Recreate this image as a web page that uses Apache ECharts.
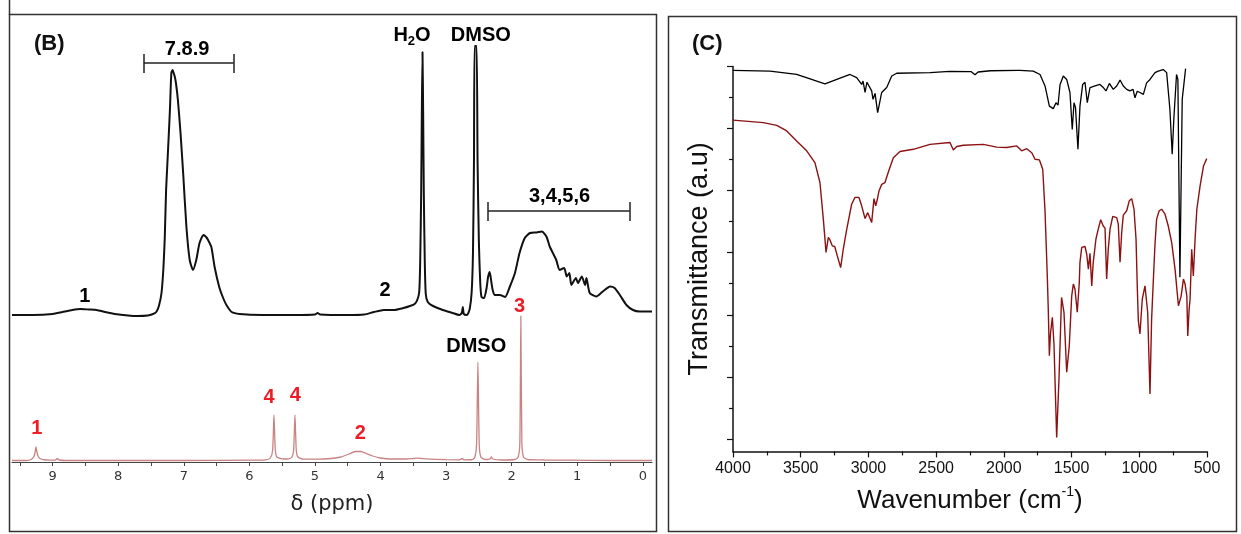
<!DOCTYPE html>
<html><head><meta charset="utf-8">
<script src="https://cdn.jsdelivr.net/npm/echarts@6/dist/echarts.min.js"></script>
<style>html,body{margin:0;padding:0;background:#fff}#c{width:1241px;height:534px}</style>
</head><body><div id="c"></div>
<script>
// ---------- Panel B : 1H NMR (ppm, intensity a.u.) ----------
const nmrBlack = [[9.62,147],[9.3,147],[9.0,148],[8.85,150],[8.7,152],[8.58,153],[8.45,152.5],[8.33,152],[8.2,150],[8.05,148],[7.85,146.5],[7.7,146],[7.55,146.5],[7.47,148],[7.42,150],[7.38,156],[7.34,169],[7.31,195],[7.29,225],[7.27,272],[7.25,299],[7.22,340],[7.21,355],[7.19,389],[7.17,392],[7.16,390],[7.14,386],[7.12,379],[7.09,362],[7.05,329],[7.01,289],[6.96,235],[6.91,202],[6.86,192],[6.81,202],[6.76,219],[6.70,227],[6.66,225],[6.63,222],[6.58,215],[6.53,195],[6.46,175],[6.40,164],[6.35,157],[6.27,150],[6.15,148],[5.8,147],[5.3,147],[5.0,147.5],[4.96,149],[4.92,147.5],[4.5,147],[4.25,147.5],[4.1,150],[3.95,152],[3.8,152],[3.65,154],[3.55,156],[3.48,158],[3.44,162],[3.41,170],[3.395,200],[3.38,270],[3.37,350],[3.36,410],[3.35,350],[3.34,270],[3.325,200],[3.31,168],[3.28,160],[3.2,156],[3.05,152],[2.9,149],[2.8,147],[2.76,149],[2.745,155],[2.73,148],[2.68,147],[2.64,153],[2.61,170],[2.59,210],[2.575,300],[2.565,416],[2.535,416],[2.52,300],[2.50,220],[2.48,180],[2.46,165],[2.42,164],[2.38,175],[2.36,185],[2.335,190],[2.31,180],[2.29,172],[2.26,167],[2.18,167],[2.10,165],[2.03,175],[1.95,189],[1.88,209],[1.80,224],[1.72,229],[1.62,229.5],[1.54,230.5],[1.47,225.5],[1.42,215.5],[1.32,202],[1.27,192],[1.20,194],[1.16,185.5],[1.12,189],[1.09,177],[1.02,184],[0.99,179],[0.93,185.5],[0.88,177],[0.86,184],[0.81,169],[0.71,165.5],[0.61,170.5],[0.50,175.5],[0.43,174],[0.35,167],[0.25,157],[0.15,152],[0.05,150.5],[-0.14,150.5]];

const nmrRed = [[9.62,1.5],[9.40,1.5],[9.33,2.5],[9.29,5],[9.27,9],[9.255,15],[9.24,10],[9.22,5.5],[9.18,3],[9.10,2],[8.96,1.8],[8.93,3.5],[8.90,2],[8.80,1.5],[7.0,1.5],[6.0,1.8],[5.75,2.2],[5.68,4],[5.645,12],[5.625,47],[5.605,12],[5.58,5],[5.48,3],[5.40,3.2],[5.35,5],[5.325,12],[5.305,47],[5.285,12],[5.26,5],[5.18,2.8],[4.95,2.8],[4.75,3.5],[4.60,5],[4.48,8],[4.38,10.5],[4.30,10.5],[4.22,8.5],[4.12,6],[4.00,4],[3.85,3],[3.60,3],[3.45,3.8],[3.30,3.2],[3.0,2.3],[2.80,2.2],[2.75,3.5],[2.73,2.2],[2.60,2.5],[2.56,5],[2.535,18],[2.515,100],[2.495,18],[2.47,5],[2.40,2.5],[2.33,3],[2.31,5],[2.29,3],[2.15,2],[1.95,2.5],[1.90,5],[1.875,20],[1.86,146],[1.845,20],[1.82,5],[1.76,2.5],[1.50,2],[1.10,1.8],[0.50,1.5],[-0.14,1.5]];

const nmrTicks = [0,0.5,1,1.5,2,2.5,3,3.5,4,4.5,5,5.5,6,6.5,7,7.5,8,8.5,9,9.5];
const nmrLabels = [0,1,2,3,4,5,6,7,8,9];

// annotation text anchored at (ppm, intensity)
const nmrNotes = [
  ['7.8.9', 6.95, 413, 'k'], ['{b|H}{s|2}{b|O}', 3.52, 427, 'k'], ['DMSO', 2.47, 427, 'k'],
  ['3,4,5,6', 1.27, 266, 'k'], ['1', 8.51, 166, 'k'], ['2', 3.93, 172, 'k'],
  ['DMSO', 2.54, 116, 'k'], ['3', 1.88, 156, 'r'], ['4', 5.70, 65, 'r'], ['4', 5.30, 67, 'r'],
  ['1', 9.24, 34, 'r'], ['2', 4.31, 29, 'r']
];
const nmrBrackets = [[7.61, 6.24, 399], [2.36, 0.20, 251]];

// ---------- Panel C : FTIR (wavenumber, transmittance a.u.) ----------
const irBlack = [[4000,11.87],[3727,11.85],[3530,11.74],[3321,11.44],[3136,11.74],[3087,11.64],[3050,11.42],[3040,11.53],[3025,11.16],[3011,11.49],[2976,11.21],[2966,10.94],[2951,11.13],[2932,10.51],[2902,11.16],[2865,11.32],[2828,11.69],[2791,11.78],[2545,11.80],[2400,11.84],[2240,11.83],[2213,11.73],[2190,11.82],[2100,11.86],[1900,11.87],[1881,11.87],[1783,11.85],[1733,11.74],[1696,11.37],[1664,10.72],[1635,10.64],[1615,10.83],[1600,10.75],[1585,11.42],[1561,11.69],[1536,11.58],[1512,11.16],[1495,9.97],[1482,10.83],[1471,10.68],[1453,9.33],[1438,10.72],[1418,11.42],[1401,11.49],[1384,10.83],[1364,11.32],[1327,11.37],[1290,11.42],[1268,11.33],[1246,11.21],[1221,11.45],[1192,11.26],[1167,11.37],[1142,11.56],[1118,11.37],[1093,11.26],[1069,11.21],[1046,11.26],[1032,10.99],[1015,11.20],[995,11.16],[970,11.10],[946,11.47],[921,11.58],[884,11.80],[860,11.85],[823,11.90],[798,11.80],[774,10.62],[757,9.17],[745,10.30],[725,11.74],[715,11.58],[700,5.21],[683,10.94],[658,11.93]];

const irRed = [[4000,10.27],[3776,10.19],[3677,10.10],[3603,9.92],[3530,9.60],[3456,9.28],[3395,8.90],[3358,8.26],[3333,7.08],[3313,6.01],[3296,6.49],[3284,6.41],[3267,6.22],[3249,6.20],[3230,5.90],[3205,5.52],[3186,6.11],[3160,6.76],[3124,7.56],[3099,7.78],[3070,7.78],[3050,7.51],[3025,7.10],[3005,7.29],[2994,7.24],[2976,6.97],[2959,7.74],[2946,7.51],[2934,7.72],[2922,7.99],[2902,8.20],[2878,8.26],[2846,8.69],[2816,9.06],[2767,9.26],[2669,9.33],[2545,9.49],[2398,9.55],[2373,9.31],[2348,9.42],[2299,9.46],[2152,9.49],[2053,9.40],[1979,9.39],[1905,9.44],[1868,9.28],[1831,9.35],[1794,9.22],[1770,9.01],[1738,8.99],[1713,8.69],[1696,7.34],[1679,5.21],[1672,4.18],[1664,2.68],[1656,3.38],[1642,3.92],[1630,3.06],[1610,0.05],[1593,1.93],[1574,4.56],[1556,4.08],[1536,2.15],[1517,3.00],[1499,4.61],[1487,4.99],[1475,4.83],[1458,4.08],[1443,5.04],[1438,5.69],[1425,6.17],[1401,6.20],[1388,5.95],[1376,5.47],[1364,5.98],[1351,4.93],[1340,5.69],[1320,6.44],[1303,6.76],[1285,7.06],[1266,6.86],[1253,6.79],[1241,5.15],[1229,6.11],[1216,6.76],[1196,7.17],[1167,7.13],[1155,6.92],[1142,5.69],[1130,6.65],[1118,7.21],[1093,7.35],[1074,7.67],[1056,7.74],[1039,7.40],[1024,6.44],[1015,4.93],[1007,3.81],[995,3.38],[978,4.50],[958,4.93],[947,4.89],[938,4.08],[921,1.45],[909,3.86],[897,5.04],[884,6.27],[872,7.08],[853,7.35],[835,7.40],[810,7.24],[786,6.86],[761,6.33],[736,5.47],[711,4.29],[691,4.60],[674,5.15],[662,4.99],[649,4.61],[642,3.32],[632,4.18],[625,4.50],[613,6.11],[601,5.25],[588,6.44],[575,7.40],[551,8.15],[526,8.79],[502,9.03]];

const irMajorY = [0,2,4,6,8,10,12];
const irMinorY = [1,3,5,7,9,11];

// ---------- build ----------
const SANS = 'Liberation Sans';
const chart = echarts.init(document.getElementById('c'), null, {renderer:'canvas'});

const noteData = nmrNotes.map(n => ({
  value:[n[1], n[2]], name:n[0],
  label:{color: n[3]==='r' ? '#ee1c25' : '#000'}
}));

const bracketLines = [];
nmrBrackets.forEach(b => {
  bracketLines.push([{coord:[b[0], b[2]]}, {coord:[b[1], b[2]]}]);
  bracketLines.push([{coord:[b[0], b[2]-10]}, {coord:[b[0], b[2]+9]}]);
  bracketLines.push([{coord:[b[1], b[2]-10]}, {coord:[b[1], b[2]+9]}]);
});

const option = {
  backgroundColor:'#fff',
  animation:false,
  grid:[
    {left:12, top:17, width:640, height:445, containLabel:false},
    {left:733, top:66.4, width:474, height:385, containLabel:false}
  ],
  xAxis:[
    {gridIndex:0, type:'value', inverse:true, min:-0.14, max:9.62,
     axisLine:{show:true, onZero:false, lineStyle:{color:'#444', width:1.2}},
     axisTick:{show:true, customValues:nmrTicks, length:4, lineStyle:{color:'#444'}},
     axisLabel:{customValues:nmrLabels, fontSize:13, color:'#333', margin:8, fontFamily:'DejaVu Sans'},
     splitLine:{show:false},
     name:'δ (ppm)', nameLocation:'middle', nameGap:32,
     nameTextStyle:{fontSize:21, color:'#222', fontFamily:'DejaVu Sans'}},
    {gridIndex:1, type:'value', inverse:true, min:500, max:4000, interval:500,
     axisLine:{show:true, onZero:false, lineStyle:{color:'#111', width:1.5}},
     axisTick:{show:true, length:6, lineStyle:{color:'#111', width:1.2}},
     minorTick:{show:true, splitNumber:2, length:4, lineStyle:{color:'#111', width:1.2}},
     axisLabel:{fontSize:16, color:'#111', margin:9, fontFamily:SANS, showMinLabel:true, showMaxLabel:true,
       formatter: v => String(v)},
     splitLine:{show:false}, minorSplitLine:{show:false},
     name:'{a|Wavenumber (cm}{s|-1}{a|)}', nameLocation:'middle', nameGap:34,
     nameTextStyle:{rich:{
       a:{fontSize:26, color:'#111', fontFamily:SANS, lineHeight:30},
       s:{fontSize:14, color:'#111', fontFamily:SANS, verticalAlign:'top', lineHeight:16}
     }}}
  ],
  yAxis:[
    {gridIndex:0, type:'value', min:0, max:445, show:false, splitLine:{show:false}},
    {gridIndex:1, type:'value', position:'left', min:-0.4, max:12,
     axisLine:{show:true, onZero:false, lineStyle:{color:'#111', width:1.5}},
     axisTick:{show:true, customValues:irMajorY, length:6, lineStyle:{color:'#111', width:1.2}},
     axisLabel:{show:false}, splitLine:{show:false},
     name:'Transmittance (a.u)', nameLocation:'middle', nameGap:20,
     nameTextStyle:{fontSize:27, color:'#111', fontFamily:SANS}},
    {gridIndex:1, type:'value', position:'left', offset:0, min:-0.4, max:12,
     axisLine:{show:false, onZero:false},
     axisTick:{show:true, customValues:irMinorY, length:4, lineStyle:{color:'#111', width:1.2}},
     axisLabel:{show:false}, splitLine:{show:false}}
  ],
  series:[
    {type:'line', xAxisIndex:0, yAxisIndex:0, data:nmrRed, showSymbol:false, smooth:0.2,
     lineStyle:{color:'#c98383', width:1.3}, z:2},
    {type:'line', xAxisIndex:0, yAxisIndex:0, data:nmrBlack, showSymbol:false, smooth:0.2,
     lineStyle:{color:'#111', width:2}, z:3},
    {type:'line', xAxisIndex:1, yAxisIndex:1, data:irBlack, showSymbol:false,
     lineStyle:{color:'#000', width:1.3}, z:3},
    {type:'line', xAxisIndex:1, yAxisIndex:1, data:irRed, showSymbol:false,
     lineStyle:{color:'#8c1212', width:1.4}, z:2},
    {type:'scatter', xAxisIndex:0, yAxisIndex:0, data:noteData, symbolSize:0, clip:false, silent:true, z:5,
     label:{show:true, position:'inside', formatter:p => p.name, fontSize:20, fontWeight:'bold', fontFamily:SANS,
       color:'#000', textBorderWidth:0, opacity:1,
       rich:{b:{fontSize:20, fontWeight:'bold', fontFamily:SANS, color:'#000', lineHeight:26},
             s:{fontSize:13, fontWeight:'bold', fontFamily:SANS, color:'#000', verticalAlign:'bottom', lineHeight:14}}},
     markLine:{silent:true, symbol:['none','none'], label:{show:false},
       lineStyle:{color:'#222', width:1.5, type:'solid'}, data:bracketLines}}
  ],
  graphic:[
    {type:'rect', shape:{x:9.5, y:14.5, width:647, height:517}, style:{fill:'none', stroke:'#333', lineWidth:1.5}, silent:true},
    {type:'line', shape:{x1:9.5, y1:0, x2:9.5, y2:15}, style:{stroke:'#333', lineWidth:1.5}, silent:true},
    {type:'rect', shape:{x:668.5, y:16.5, width:568, height:515}, style:{fill:'none', stroke:'#333', lineWidth:1.5}, silent:true},
    {type:'text', left:34, top:33, style:{text:'(B)', font:'bold 22px "Liberation Sans"', fill:'#111'}, silent:true},
    {type:'text', left:692, top:33, style:{text:'(C)', font:'bold 22px "Liberation Sans"', fill:'#111'}, silent:true}
  ]
};
chart.setOption(option);
</script></body></html>
